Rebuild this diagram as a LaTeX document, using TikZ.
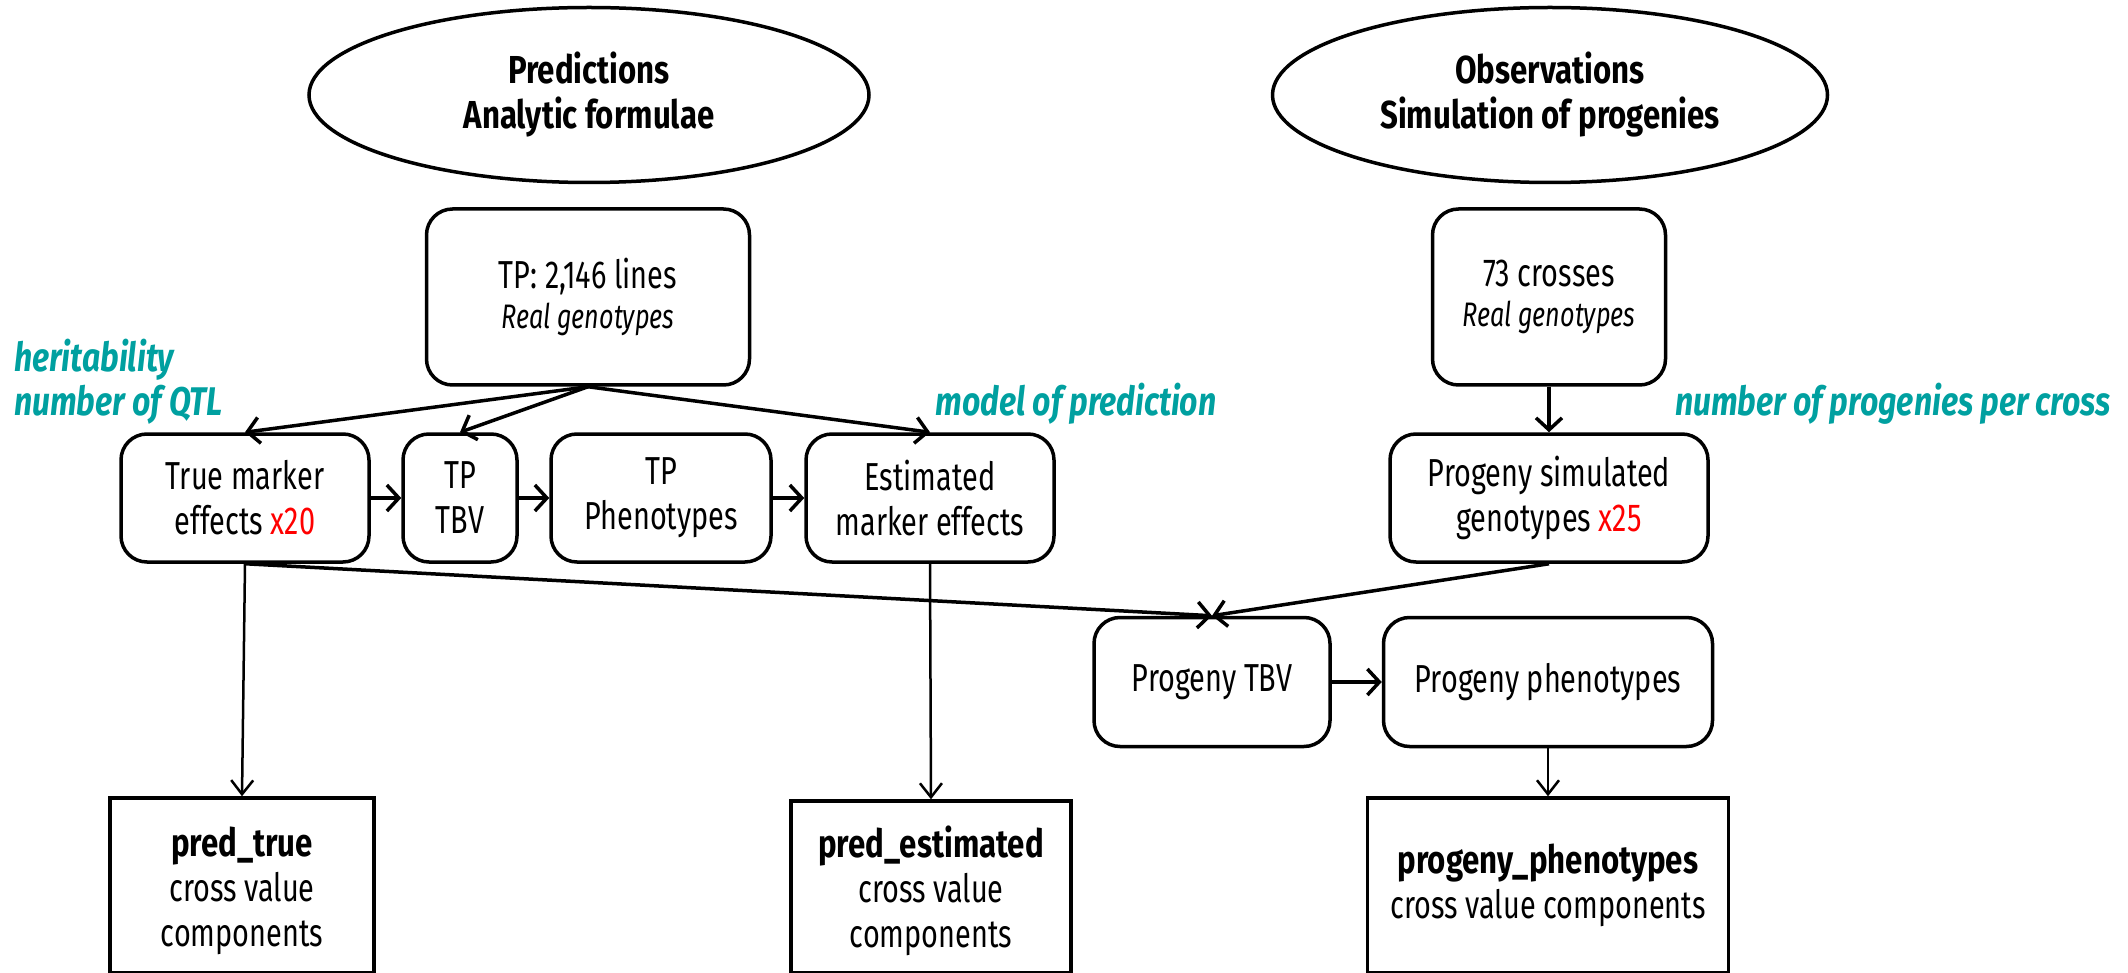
\documentclass[tikz,border=0pt]{standalone}
\usepackage{fontspec}
\setmainfont{Fira Sans}[FakeStretch=0.74, BoldFeatures={FakeStretch=0.8}, BoldItalicFeatures={FakeStretch=0.8}]
\usetikzlibrary{shapes.geometric,arrows.meta}
\definecolor{tealc}{RGB}{0,160,160}
\definecolor{redc}{RGB}{255,0,0}
\begin{document}
\begin{tikzpicture}[x=1pt,y=-1pt,
 every node/.style={inner sep=0pt, font=\fontsize{39}{45}\selectfont, align=center},
 ell/.style={ellipse, draw, line width=3.5pt},
 rbox/.style={draw, rounded corners=26pt, line width=3.5pt},
 sbox/.style={draw, line width=3.5pt},
 con/.style={line width=3.5pt, -{Straight Barb[length=12pt,width=26pt]}},
 thinc/.style={line width=2.5pt, -{Straight Barb[length=14pt,width=22pt]}},
 lab/.style={text=tealc, font=\fontsize{40}{44}\selectfont\bfseries\itshape},
]
\useasboundingbox (0,0) rectangle (2128,973);
% ellipses
\node[ell, minimum width=560pt, minimum height=175pt] (e1) at (589,95) {\bfseries Predictions\\\bfseries Analytic formulae};
\node[ell, minimum width=555pt, minimum height=175pt] (e2) at (1550,95) {\bfseries Observations\\\bfseries Simulation of progenies};
% top boxes
\node[rbox, minimum width=323pt, minimum height=176pt] (tp) at (588,297) {TP: 2,146 lines\\[-5pt]{\fontsize{34}{40}\selectfont\itshape Real genotypes}};
\node[rbox, minimum width=233pt, minimum height=176pt] (cr) at (1549,297) {73 crosses\\[-5pt]{\fontsize{34}{40}\selectfont\itshape Real genotypes}};
% middle row
\node[rbox, minimum width=248pt, minimum height=128pt] (tme) at (245,498) {True marker\\effects \textcolor{redc}{x20}};
\node[rbox, minimum width=114pt, minimum height=128pt] (tbv) at (460,498) {TP\\TBV};
\node[rbox, minimum width=220pt, minimum height=128pt] (tph) at (661,498) {TP\\Phenotypes};
\node[rbox, minimum width=248pt, minimum height=128pt] (eme) at (930,498) {Estimated\\marker effects};
\node[rbox, minimum width=318pt, minimum height=128pt] (psg) at (1549,498) {Progeny simulated\\genotypes \textcolor{redc}{x25}};
% progeny row
\node[rbox, minimum width=236pt, minimum height=129pt] (ptbv) at (1212,682) {Progeny TBV};
\node[rbox, minimum width=329pt, minimum height=129pt] (pph) at (1548,682) {Progeny phenotypes};
% bottom boxes
\node[sbox, minimum width=264pt, minimum height=175pt] (bt) at (242,885.5) {};
\node (btt) at ([yshift=-5pt]bt.center) {\textbf{pred\_true}\\cross value\\components};
\node[sbox, minimum width=280pt, minimum height=172pt] (be) at (931,887) {};
\node (bet) at ([yshift=-4pt]be.center) {\textbf{pred\_estimated}\\cross value\\components};
\node[sbox, minimum width=361pt, minimum height=175pt] (bp) at (1548,885.5) {\textbf{progeny\_phenotypes}\\cross value components};
% labels
\node[lab, anchor=west, align=left] (l1) at (14,382) {heritability\\number of QTL};
\node[lab] (l2) at (1076,404) {model of prediction};
\node[lab] (l3) at (1893,404) {number of progenies per cross};
% connectors
\draw[con] (tp.south) -- (tme.north);
\draw[con] (tp.south) -- (tbv.north);
\draw[con] (tp.south) -- (eme.north);
\draw[con] (tme) -- (tbv);
\draw[con] (tbv) -- (tph);
\draw[con] (tph) -- (eme);
\draw[con] (cr) -- (psg);
\draw[con] (tme.south) -- (ptbv.north);
\draw[con] (psg.south) -- (ptbv.north);
\draw[con] (ptbv) -- (pph);
\draw[thinc] (tme.south) -- (bt.north);
\draw[thinc] (eme.south) -- (be.north);
\draw[thinc] (pph) -- (bp);
\end{tikzpicture}
\end{document}
